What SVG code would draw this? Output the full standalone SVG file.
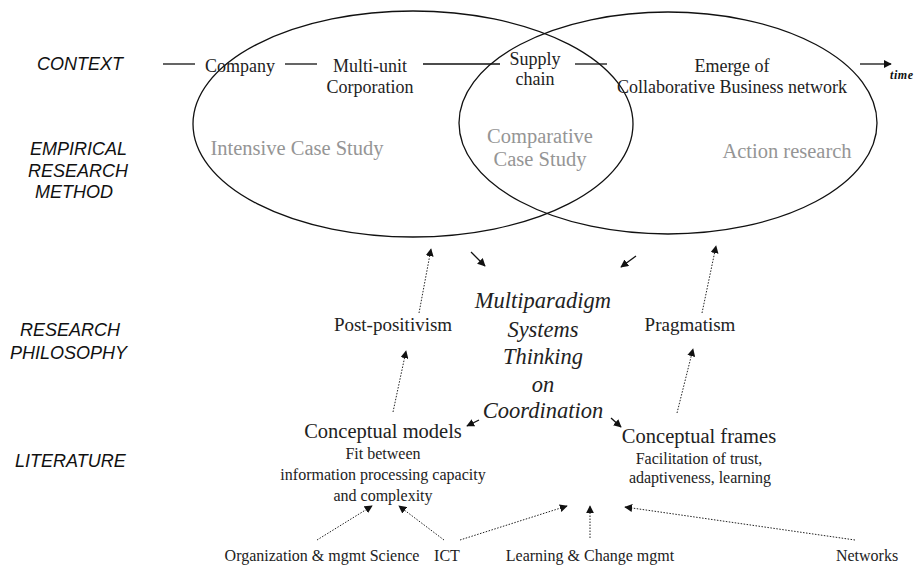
<svg xmlns="http://www.w3.org/2000/svg" width="917" height="572" viewBox="0 0 917 572">
  <style>
    .lbl { font-family: "Liberation Sans", Arial, sans-serif; font-style: italic; font-size: 18px; fill: #111; }
    .t18 { font-family: "Liberation Serif", "Times New Roman", serif; font-size: 18px; fill: #222; text-anchor: middle; }
    .t16 { font-family: "Liberation Serif", "Times New Roman", serif; font-size: 16px; fill: #222; text-anchor: middle; }
    .t19 { font-family: "Liberation Serif", "Times New Roman", serif; font-size: 19px; fill: #222; text-anchor: middle; }
    .t21 { font-family: "Liberation Serif", "Times New Roman", serif; font-size: 20.5px; fill: #222; text-anchor: middle; }
    .gray { font-family: "Liberation Serif", "Times New Roman", serif; font-size: 20.5px; fill: #959595; text-anchor: middle; }
    .core { font-family: "Liberation Serif", "Times New Roman", serif; font-style: italic; font-size: 22.5px; fill: #222; text-anchor: middle; }
    .ell { fill: none; stroke: #111; stroke-width: 1.3; }
    .solid { stroke: #111; stroke-width: 1.3; fill: none; }
    .dot { stroke: #222; stroke-width: 1; stroke-dasharray: 1.5 1.5; fill: none; }
  </style>
  <defs>
    <marker id="head" viewBox="0 0 10 10" refX="9" refY="5" markerWidth="8" markerHeight="8" markerUnits="userSpaceOnUse" orient="auto">
      <path d="M0,0 L10,5 L0,10 z" fill="#111"/>
    </marker>
  </defs>
  <rect width="917" height="572" fill="#fff"/>

  <!-- row labels -->
  <g id="row-labels">
    <text class="lbl" x="37" y="70">CONTEXT</text>
    <text class="lbl" x="30" y="155">EMPIRICAL</text>
    <text class="lbl" x="28" y="177">RESEARCH</text>
    <text class="lbl" x="35" y="198">METHOD</text>
    <text class="lbl" x="20" y="336">RESEARCH</text>
    <text class="lbl" x="10" y="359">PHILOSOPHY</text>
    <text class="lbl" x="15" y="467">LITERATURE</text>
  </g>

  <!-- two overlapping method ellipses -->
  <g id="ellipse-left"><ellipse class="ell" cx="413" cy="124" rx="220" ry="113"/></g>
  <g id="ellipse-right"><ellipse class="ell" cx="668" cy="123" rx="209" ry="111"/></g>

  <g id="connectors">
    <!-- context timeline -->
    <line class="solid" x1="163" y1="64" x2="195" y2="64"/>
    <line class="solid" x1="285" y1="64" x2="317" y2="64"/>
    <line class="solid" x1="423" y1="64" x2="500" y2="64" stroke-width="1.8"/>
    <line class="solid" x1="575" y1="64" x2="607" y2="64"/>
    <line class="solid" x1="860" y1="64" x2="891" y2="64" marker-end="url(#head)"/>
    <!-- ellipses into the core -->
    <line class="solid" x1="471" y1="252" x2="485" y2="266" marker-end="url(#head)"/>
    <line class="solid" x1="636" y1="256" x2="621" y2="267" marker-end="url(#head)"/>
    <!-- core out to the literature -->
    <line class="solid" x1="479" y1="420" x2="467" y2="426" marker-end="url(#head)"/>
    <line class="solid" x1="611" y1="418" x2="621" y2="427" marker-end="url(#head)"/>
    <!-- philosophy chain -->
    <line class="dot" x1="393" y1="412" x2="406" y2="351" marker-end="url(#head)"/>
    <line class="dot" x1="419" y1="313" x2="431" y2="249" marker-end="url(#head)"/>
    <line class="dot" x1="677" y1="413" x2="693" y2="349" marker-end="url(#head)"/>
    <line class="dot" x1="702" y1="313" x2="716" y2="246" marker-end="url(#head)"/>
    <!-- sources into literature -->
    <line class="dot" x1="317" y1="540" x2="372" y2="506" marker-end="url(#head)"/>
    <line class="dot" x1="444" y1="540" x2="399" y2="506" marker-end="url(#head)"/>
    <line class="dot" x1="460" y1="540" x2="567" y2="506" marker-end="url(#head)"/>
    <line class="dot" x1="590" y1="538" x2="590" y2="506" marker-end="url(#head)"/>
    <line class="dot" x1="855" y1="540" x2="625" y2="507" marker-end="url(#head)"/>
  </g>

  <!-- context stages -->
  <g id="company"><text class="t18" x="240" y="72">Company</text></g>
  <g id="multi-unit">
    <text class="t18" x="370" y="72">Multi-unit</text>
    <text class="t18" x="370" y="93">Corporation</text>
  </g>
  <g id="supply-chain">
    <text class="t18" x="535" y="65">Supply</text>
    <text class="t18" x="535" y="85">chain</text>
  </g>
  <g id="collab-network">
    <text class="t18" x="732" y="72">Emerge of</text>
    <text class="t18" x="732" y="93">Collaborative Business network</text>
  </g>
  <g id="time"><text x="890" y="79" font-family="Liberation Serif, serif" font-style="italic" font-weight="bold" font-size="12" letter-spacing="0.6" fill="#111">time</text></g>

  <!-- methods -->
  <g id="intensive"><text class="gray" x="297" y="155">Intensive Case Study</text></g>
  <g id="comparative">
    <text class="gray" x="540" y="143">Comparative</text>
    <text class="gray" x="540" y="166">Case Study</text>
  </g>
  <g id="action"><text class="gray" x="787" y="158">Action research</text></g>

  <!-- core -->
  <g id="core">
    <text class="core" x="543" y="308">Multiparadigm</text>
    <text class="core" x="543" y="337">Systems</text>
    <text class="core" x="543" y="364">Thinking</text>
    <text class="core" x="543" y="392">on</text>
    <text class="core" x="543" y="418">Coordination</text>
  </g>

  <!-- philosophies -->
  <g id="post-positivism"><text class="t19" x="393" y="331">Post-positivism</text></g>
  <g id="pragmatism"><text class="t19" x="690" y="331">Pragmatism</text></g>

  <!-- literature -->
  <g id="conceptual-models">
    <text class="t21" x="383" y="438">Conceptual models</text>
    <text class="t16" x="383" y="459">Fit between</text>
    <text class="t16" x="383" y="480">information processing capacity</text>
    <text class="t16" x="383" y="501">and complexity</text>
  </g>
  <g id="conceptual-frames">
    <text class="t21" x="699" y="443">Conceptual frames</text>
    <text class="t16" x="699" y="464">Facilitation of trust,</text>
    <text class="t16" x="700" y="483">adaptiveness, learning</text>
  </g>

  <!-- sources -->
  <g id="org-science"><text class="t16" x="322" y="561">Organization &amp; mgmt Science</text></g>
  <g id="ict"><text class="t16" x="447" y="561">ICT</text></g>
  <g id="learning"><text class="t16" x="590" y="561">Learning &amp; Change mgmt</text></g>
  <g id="networks"><text class="t16" x="867" y="561">Networks</text></g>
</svg>
